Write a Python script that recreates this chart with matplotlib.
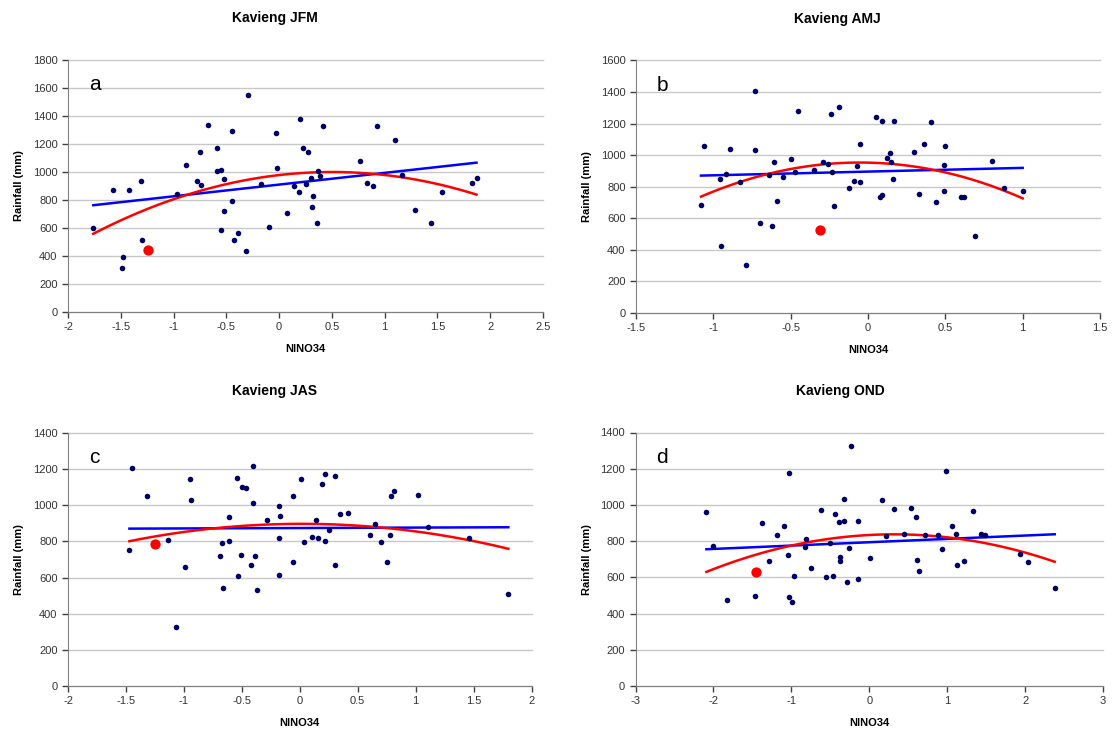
import numpy as np
import matplotlib
matplotlib.use('Agg')
import matplotlib.pyplot as plt

plt.rcParams['font.family'] = ['Liberation Sans', 'DejaVu Sans']

# Kavieng JFM
jfm_x = [-1.76, -1.57, -1.42, -1.31, -1.30, -1.48, -1.49, -0.97, -0.88, -0.78, -0.74, -0.75,
         -0.67, -0.59, -0.59, -0.55, -0.52, -0.55, -0.52, -0.45, -0.45, -0.43, -0.39, -0.31,
         -0.29, -0.17, -0.10, -0.03, -0.02, 0.07, 0.14, 0.19, 0.20, 0.23, 0.25, 0.27, 0.30,
         0.32, 0.31, 0.36, 0.42, 0.37, 0.39, 0.77, 0.83, 0.89, 0.93, 1.10, 1.16, 1.29, 1.44,
         1.54, 1.83, 1.87]
jfm_y = [599, 868, 868, 937, 511, 395, 312, 842, 1053, 937, 908, 1141,
         1334, 1170, 1006, 1011, 949, 585, 723, 792, 1294, 511, 564, 435,
         1548, 916, 606, 1275, 1032, 704, 901, 854, 1382, 1168, 916, 1141, 958,
         832, 749, 635, 1327, 1006, 975, 1080, 923, 901, 1327, 1230, 982, 728, 635,
         854, 920, 956]
jfm_hl = (-1.24, 442)

# Kavieng AMJ
amj_x = [-1.08, -1.06, -0.96, -0.95, -0.92, -0.89, -0.83, -0.79, -0.73, -0.73, -0.70, -0.62,
         -0.61, -0.59, -0.64, -0.55, -0.50, -0.47, -0.45, -0.35, -0.29, -0.26, -0.24, -0.23,
         -0.22, -0.19, -0.12, -0.09, -0.07, -0.05, -0.05, 0.05, 0.09, 0.17, 0.08, 0.09, 0.12,
         0.14, 0.15, 0.16, 0.30, 0.33, 0.36, 0.41, 0.44, 0.49, 0.50, 0.49, 0.60, 0.62, 0.69,
         0.80, 0.88, 1.00]
amj_y = [683, 1061, 848, 427, 879, 1042, 831, 304, 1404, 1032, 573, 550,
         958, 708, 875, 860, 977, 894, 1281, 907, 958, 945, 1262, 892,
         679, 1307, 793, 837, 932, 831, 1074, 1239, 1214, 1214, 738, 748, 983,
         1013, 958, 848, 1019, 753, 1074, 1209, 702, 939, 1061, 776, 732, 738, 488,
         964, 789, 776]
amj_hl = (-0.31, 524)

# Kavieng JAS
jas_x = [-1.47, -1.45, -1.32, -1.14, -1.07, -0.99, -0.95, -0.94, -0.69, -0.67, -0.66, -0.61,
         -0.61, -0.54, -0.53, -0.51, -0.50, -0.46, -0.42, -0.40, -0.40, -0.39, -0.37, -0.28,
         -0.18, -0.18, -0.18, -0.17, -0.06, -0.06, 0.01, 0.04, 0.11, 0.14, 0.16, 0.19, 0.22,
         0.22, 0.25, 0.30, 0.30, 0.35, 0.42, 0.61, 0.65, 0.70, 0.75, 0.78, 0.79, 0.81, 1.02,
         1.11, 1.46, 1.80]
jas_y = [755, 1208, 1053, 808, 329, 660, 1145, 1027, 718, 792, 542, 936,
         803, 1149, 607, 723, 1103, 1095, 672, 1217, 1010, 718, 533, 921,
         820, 612, 995, 942, 1049, 688, 1145, 799, 825, 921, 820, 1117, 1171,
         805, 862, 1160, 672, 953, 958, 834, 895, 799, 686, 834, 1053, 1080, 1055,
         879, 818, 511]
jas_hl = (-1.25, 786)

# Kavieng OND
ond_x = [-2.09, -2.00, -1.83, -1.47, -1.38, -1.29, -1.19, -1.10, -1.04, -1.03, -1.03, -0.99,
         -0.97, -0.83, -0.81, -0.75, -0.62, -0.55, -0.51, -0.46, -0.44, -0.39, -0.38, -0.37,
         -0.33, -0.32, -0.29, -0.26, -0.24, -0.15, -0.15, 0.01, 0.16, 0.21, 0.32, 0.44, 0.53,
         0.60, 0.61, 0.64, 0.71, 0.88, 0.94, 0.98, 1.06, 1.11, 1.13, 1.22, 1.33, 1.44, 1.48,
         1.93, 2.04, 2.38]
ond_y = [959, 775, 473, 495, 902, 689, 832, 886, 722, 1177, 490, 462,
         606, 768, 812, 654, 974, 600, 792, 606, 948, 906, 691, 713,
         1033, 913, 573, 764, 1324, 912, 589, 705, 1028, 827, 976, 838, 982,
         934, 694, 637, 832, 832, 759, 1186, 886, 842, 668, 691, 965, 838, 832,
         731, 685, 541]
ond_hl = (-1.45, 632)

panels = [
    ('Kavieng JFM', 'a', jfm_x, jfm_y, jfm_hl, (-2, 2.5), 0.5, 1800),
    ('Kavieng AMJ', 'b', amj_x, amj_y, amj_hl, (-1.5, 1.5), 0.5, 1600),
    ('Kavieng JAS', 'c', jas_x, jas_y, jas_hl, (-2, 2), 0.5, 1400),
    ('Kavieng OND', 'd', ond_x, ond_y, ond_hl, (-3, 3), 1, 1400),
]

# axes boxes in pixels: left, right, top, bottom
boxes = [(68, 543, 60, 312), (636, 1100, 60.5, 313),
         (68, 531.5, 433, 686), (635.5, 1103, 432.5, 686)]
title_x = [275, 837, 275, 840]

W, H = 1113, 735
fig = plt.figure(figsize=(W / 100, H / 100), dpi=100)

for (title, letter, xs, ys, hl, xlim, xstep, ymax), (l, r, t, b), tx in zip(panels, boxes, title_x):
    ax = fig.add_axes([l / W, 1 - b / H, (r - l) / W, (b - t) / H])
    xs = np.array(xs)
    ys = np.array(ys)
    allx = np.append(xs, hl[0])
    ally = np.append(ys, hl[1])

    ax.scatter(xs, ys, s=16, color='#000066', zorder=3, linewidths=0)
    ax.scatter([hl[0]], [hl[1]], s=55, color='#ff0000', zorder=4, linewidths=0)

    # linear and 2nd order trendlines
    xx = np.linspace(allx.min(), allx.max(), 100)
    p1 = np.polyfit(allx, ally, 1)
    p2 = np.polyfit(allx, ally, 2)
    ax.plot(xx, np.polyval(p1, xx), color='#0000ff', lw=1.8, zorder=2)
    ax.plot(xx, np.polyval(p2, xx), color='#ff0000', lw=1.8, zorder=2)

    ax.set_xlim(*xlim)
    ax.set_ylim(0, ymax)
    xt = np.arange(xlim[0], xlim[1] + 1e-9, xstep)
    ax.set_xticks(xt)
    ax.set_xticklabels(['%g' % v for v in xt])
    ax.set_yticks(np.arange(0, ymax + 1, 200))
    ax.yaxis.grid(True, color='#c8c8c8', lw=1)
    for gl in ax.get_ygridlines():
        gl.set_clip_on(False)
    ax.set_axisbelow(True)
    for s in ['top', 'right']:
        ax.spines[s].set_visible(False)
    for s in ['left', 'bottom']:
        ax.spines[s].set_color('#808080')
    ax.tick_params(labelsize=8, colors='#404040', labelcolor='#333333', length=4, width=1)

    ax.text(0.045, 0.88, letter, transform=ax.transAxes, fontsize=15)
    ax.set_ylabel('Rainfall (mm)', fontsize=8, fontweight='bold', labelpad=6)
    ax.set_xlabel('NINO34', fontsize=8, fontweight='bold', labelpad=8)
    fig.text(tx / W, 1 - (t - 42) / H, title, ha='center', va='center',
             fontsize=10, fontweight='bold')

fig.savefig('out.png', dpi=100)
